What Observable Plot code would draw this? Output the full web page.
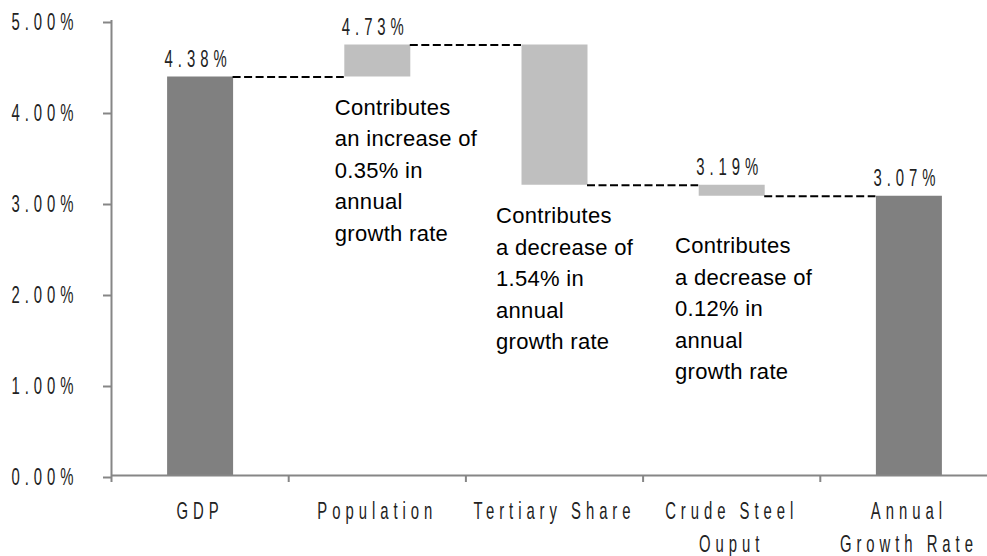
<!DOCTYPE html>
<html>
<head>
<meta charset="utf-8">
<script src="https://cdn.jsdelivr.net/npm/d3@7"></script>
<script src="https://cdn.jsdelivr.net/npm/@observablehq/plot@0.6"></script>
<style>
  html, body { margin: 0; padding: 0; background: #fff; overflow: hidden; }
  #chart svg { display: block; max-width: none !important; }
</style>
</head>
<body>
<div id="chart"></div>
<script>
// ---- data ----
const categories = ["GDP", "Population", "Tertiary Share", "Crude Steel\nOuput", "Annual\nGrowth Rate"];
const barStart = [0, 4.38, 4.73, 3.19, 0];
const barEnd = [4.38, 4.73, 3.19, 3.07, 3.07];
const barKind = ["total", "change", "change", "change", "total"];
const valueLabels = [4.38, 4.73, null, 3.19, 3.07];
const yTicks = [0, 1, 2, 3, 4, 5];
const noteTexts = [
  "Contributes\nan increase of\n0.35% in\nannual\ngrowth rate",
  "Contributes\na decrease of\n1.54% in\nannual\ngrowth rate",
  "Contributes\na decrease of\n0.12% in\nannual\ngrowth rate"
];
const noteX = [1.26, 2.17, 3.18];
const noteY = [4.12, 2.93, 2.60];

// ---- tables built from the arrays ----
const bars = categories.map((c, i) => ({
  i, c, start: barStart[i], end: barEnd[i], kind: barKind[i], label: valueLabels[i]
}));
const links = bars.slice(0, -1).map(d => ({ i: d.i, level: d.end }));
const notes = noteTexts.map((t, k) => ({ text: t, x: noteX[k], y: noteY[k] }));

const axisGray = "#868686";
const labelFont = "Liberation Sans, Arial, sans-serif";

const chart = Plot.plot({
  width: 987,
  height: 556,
  marginLeft: 111,
  marginRight: 0,
  marginTop: 20,
  marginBottom: 81,
  style: { background: "#fff", color: "#222", fontFamily: labelFont },
  x: { domain: [0, 5], range: [111, 997], label: null },
  y: { domain: [0, 5], label: null },
  color: { domain: ["total", "change"], range: ["#808080", "#bfbfbf"] },
  marks: [
    // bars (floating)
    Plot.ruleX(bars, {
      x: d => d.i + 0.5, y1: "start", y2: "end",
      stroke: "kind", strokeWidth: 66, strokeLinecap: "butt"
    }),
    // connectors
    Plot.ruleY(links, {
      y: "level", x1: d => d.i + 0.5, x2: d => d.i + 1.5,
      insetLeft: 33, insetRight: 33,
      stroke: "#000", strokeWidth: 2, strokeDasharray: "8,3.5"
    }),
    // axis lines
    Plot.ruleX([0], { y1: 0, y2: 5, stroke: axisGray, strokeWidth: 2 }),
    Plot.ruleY([0], { stroke: axisGray, strokeWidth: 2 }),
    Plot.axisY({
      ticks: yTicks, tickSize: 8, tickPadding: 25,
      tickFormat: d => d.toFixed(2) + "%",
      stroke: axisGray, strokeWidth: 2, fontSize: 24, dy: 2
    }),
    Plot.axisX({
      ticks: yTicks, tickSize: 7, tickFormat: () => "",
      stroke: axisGray, strokeWidth: 2
    }),
    // category labels
    Plot.text(bars, {
      x: d => d.i + 0.5, y: () => 0, text: "c",
      lineAnchor: "top", dy: 20, lineHeight: 1.38, fontSize: 24
    }),
    // value labels
    Plot.text(bars.filter(d => d.label != null), {
      x: d => d.i + 0.5, y: "label", text: d => d.label.toFixed(2) + "%",
      lineAnchor: "bottom", dy: -10, dx: -2, fontSize: 24
    }),
    // annotations
    Plot.text(notes, {
      x: "x", y: "y", text: "text",
      textAnchor: "start", lineAnchor: "top", lineHeight: 1.43, dy: -8,
      fontSize: 22, fill: "#000", fontFamily: labelFont
    })
  ]
});

// condensed, letter-spaced look for tick/value/category labels
function squeeze(el, s) {
  let t = el.getAttribute("transform") || "";
  const x = el.getAttribute("x");
  if (x != null && x !== "" && !isNaN(+x)) {
    t += ` translate(${x},0)`;
    el.removeAttribute("x");
  }
  el.setAttribute("transform", (t + ` scale(${s},1)`).trim());
  el.style.letterSpacing = "8px";
}
chart.querySelectorAll("text").forEach(el => {
  if (el.textContent.includes("Contributes")) {
    el.style.letterSpacing = "0.3px";
  } else if (el.textContent.trim() !== "") {
    squeeze(el, 0.62);
  }
});

document.getElementById("chart").appendChild(chart);
</script>
</body>
</html>
